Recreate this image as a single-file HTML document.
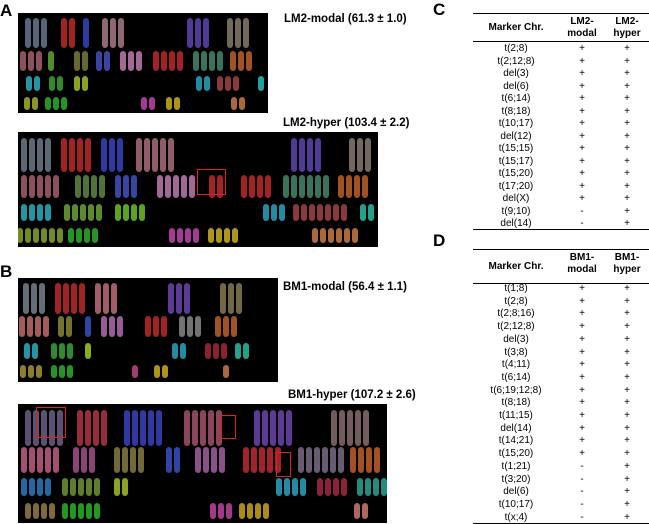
<!DOCTYPE html>
<html><head><meta charset="utf-8">
<style>
body{margin:0;background:#fff;width:649px;height:524px;position:relative;overflow:hidden;font-family:"Liberation Sans",Arial,sans-serif;}
.abs{position:absolute}
.letter{font-weight:bold;font-size:17px;color:#000}
.title{font-weight:bold;font-size:11.5px;color:#000;white-space:nowrap}
.panel{position:absolute;background:#000;overflow:hidden}
.chr{position:absolute;border-radius:3.5px}
.rbox{position:absolute;border:1.5px solid #e02020}
.tbl{position:absolute;font-size:10px;color:#000}
.cell{position:absolute;transform:translateX(-50%);white-space:nowrap;line-height:11px}
.hline{position:absolute;height:1.3px;background:#000}
</style></head><body>
<div class="abs letter" style="left:0;top:1px">A</div>
<div class="abs letter" style="left:0;top:262px">B</div>
<div class="abs letter" style="left:433px;top:0px">C</div>
<div class="abs letter" style="left:433px;top:231px">D</div>

<div class="abs title" style="left:284px;top:13px">LM2-modal (61.3 ± 1.0)</div>
<div class="abs title" style="left:283px;top:117px">LM2-hyper (103.4 ± 2.2)</div>
<div class="abs title" style="left:283px;top:281px">BM1-modal (56.4 ± 1.1)</div>
<div class="abs title" style="left:288px;top:389px">BM1-hyper (107.2 ± 2.6)</div>

<div class="panel" id="p1" style="left:18px;top:13px;width:250px;height:100px"></div>
<div class="panel" id="p2" style="left:18px;top:132px;width:360px;height:115px"></div>
<div class="panel" id="p3" style="left:18px;top:278px;width:260px;height:104px"></div>
<div class="panel" id="p4" style="left:18px;top:404px;width:369px;height:119px"></div>

<div id="tc" class="tbl" style="left:0;top:0;width:649px;height:524px"></div>

<script>
const rowsA1=[
 [0.2,0.3,[[0.07,3,'#7a8aa8'],[0.2,2,'#e03030'],[0.27,1,'#4050e0'],[0.38,3,'#c890a0'],[0.72,3,'#7050d0'],[0.88,3,'#a09080']]],
 [0.48,0.2,[[0.05,3,'#c07080'],[0.13,1,'#70c040'],[0.25,2,'#909040'],[0.34,2,'#5060e0'],[0.45,3,'#e090d0'],[0.6,4,'#e03030'],[0.76,4,'#50a080'],[0.89,3,'#e07030']]],
 [0.7,0.15,[[0.06,2,'#30d0e0'],[0.15,2,'#40c040'],[0.25,2,'#c0e030'],[0.74,2,'#30c0e0'],[0.84,3,'#c05050'],[0.97,1,'#30e0e0']]],
 [0.9,0.13,[[0.05,2,'#c0d030'],[0.15,3,'#30d030'],[0.52,2,'#e050d0'],[0.62,2,'#f0d020'],[0.88,2,'#f09050']]]
];
const rowsA2=[
 [0.2,0.3,[[0.05,4,'#8090a0'],[0.16,4,'#e03030'],[0.26,3,'#4050e0'],[0.38,5,'#c88090'],[0.8,4,'#7050d0'],[0.95,3,'#a09080']]],
 [0.47,0.2,[[0.06,5,'#c07080'],[0.2,4,'#70a050'],[0.3,3,'#5060e0'],[0.44,5,'#e090d0'],[0.55,2,'#e03040'],[0.66,4,'#e03030'],[0.8,6,'#50a080'],[0.93,4,'#e07030']]],
 [0.7,0.15,[[0.05,4,'#30d0e0'],[0.18,5,'#80c040'],[0.31,4,'#80e030'],[0.71,3,'#30c0e0'],[0.84,7,'#c05050'],[0.97,2,'#30e0c0']]],
 [0.9,0.13,[[0.06,6,'#a0c030'],[0.18,4,'#30d030'],[0.46,4,'#e050d0'],[0.57,4,'#f0d020'],[0.88,6,'#f09050']]]
];
const rowsB1=[
 [0.2,0.3,[[0.06,3,'#8a98a8'],[0.2,4,'#e03030'],[0.34,3,'#e08090'],[0.62,3,'#8050d0'],[0.82,3,'#a09060']]],
 [0.47,0.2,[[0.06,4,'#e08080'],[0.18,2,'#a0a040'],[0.27,1,'#4060e0'],[0.36,3,'#d080d0'],[0.53,3,'#e03030'],[0.66,3,'#a0a0a0'],[0.8,3,'#e07030']]],
 [0.7,0.15,[[0.05,2,'#30d0e0'],[0.17,3,'#40c040'],[0.27,1,'#c0f030'],[0.62,2,'#30c0e0'],[0.76,3,'#c03040'],[0.86,2,'#30e0c0']]],
 [0.9,0.13,[[0.05,3,'#c0b040'],[0.17,3,'#30d030'],[0.45,1,'#e050a0'],[0.55,2,'#f0d020'],[0.8,1,'#f09050']]]
];
const rowsB2=[
 [0.2,0.3,[[0.07,5,'#8070a0'],[0.2,4,'#d04050'],[0.34,5,'#4050e0'],[0.5,5,'#c06080'],[0.69,5,'#8050d0'],[0.9,5,'#a08080']]],
 [0.47,0.22,[[0.06,5,'#e070a0'],[0.18,3,'#c060a0'],[0.3,4,'#a09050'],[0.42,2,'#4060e0'],[0.52,4,'#c070c0'],[0.66,5,'#e03040'],[0.82,6,'#9080a0'],[0.94,4,'#e07030']]],
 [0.7,0.15,[[0.05,4,'#3090e0'],[0.17,5,'#80b040'],[0.28,2,'#c0e030'],[0.74,4,'#30c0e0'],[0.85,4,'#c03050'],[0.96,4,'#30c0b0']]],
 [0.9,0.13,[[0.06,4,'#b09050'],[0.17,5,'#30d030'],[0.55,3,'#e050c0'],[0.64,4,'#f0c020'],[0.93,2,'#f09080']]]
];
function drawPanel(id,rows,boxes){
  const p=document.getElementById(id);const W=p.clientWidth,H=p.clientHeight;
  rows.forEach(r=>{const cy=r[0]*H,h=r[1]*H;
    r[2].forEach(g=>{const n=g[1],w=6,gap=2,tot=n*w+(n-1)*gap;let x0=g[0]*W-tot/2;
      for(let i=0;i<n;i++){const c=document.createElement('div');c.className='chr';
        
        
        c.style.left=(x0+i*(w+gap))+'px';c.style.top=(cy-h/2)+'px';c.style.width=w+'px';c.style.height=h+'px';
        c.style.background=g[2];c.style.opacity=0.72;p.appendChild(c);}
    });});
  (boxes||[]).forEach(b=>{const d=document.createElement('div');d.className='rbox';
    
    
    d.style.left=b[0]+'px';d.style.top=b[1]+'px';d.style.width=b[2]+'px';d.style.height=b[3]+'px';p.appendChild(d);});
}
drawPanel('p1',rowsA1);
drawPanel('p2',rowsA2,[[179,37,27,24]]);
drawPanel('p3',rowsB1);
drawPanel('p4',rowsB2,[[18,3,28,29],[203,11,13,22],[258,48,13,23]]);

const markersC=['t(2;8)','t(2;12;8)','del(3)','del(6)','t(6;14)','t(8;18)','t(10;17)','del(12)','t(15;15)','t(15;17)','t(15;20)','t(17;20)','del(X)','t(9;10)','del(14)'];
const modalC=['+','+','+','+','+','+','+','+','+','+','+','+','+','-','-'];
const hyperC=['+','+','+','+','+','+','+','+','+','+','+','+','+','+','+'];
const markersD=['t(1;8)','t(2;8)','t(2;8;16)','t(2;12;8)','del(3)','t(3;8)','t(4;11)','t(6;14)','t(6;19;12;8)','t(8;18)','t(11;15)','del(14)','t(14;21)','t(15;20)','t(1;21)','t(3;20)','del(6)','t(10;17)','t(x;4)'];
const modalD=['+','+','+','+','+','+','+','+','+','+','+','+','+','+','-','-','-','-','-'];
const hyperD=['+','+','+','+','+','+','+','+','+','+','+','+','+','+','+','+','+','+','+'];
const T=document.getElementById('tc');
function cell(txt,x,y,bold,name){const d=document.createElement('div');d.className='cell';
  
  
  d.textContent=txt;d.style.left=x+'px';d.style.top=y+'px';if(bold)d.style.fontWeight='bold';T.appendChild(d);}
function line(y,name){const d=document.createElement('div');d.className='hline';
  
  
  d.style.left='473px';d.style.width='176px';d.style.top=y+'px';T.appendChild(d);}
function table(top,line2,start,step,bottom,lab,mk,mo,hy){
  line(top,'table-top-rule');
  cell('Marker Chr.',516,(top+line2)/2-5,true,'header-marker');
  cell(lab+'-',582,top+3,true,'header-modal');cell('modal',582,top+15,true,'header-modal');
  cell(lab+'-',627,top+3,true,'header-hyper');cell('hyper',627,top+15,true,'header-hyper');
  line(line2,'table-header-rule');
  mk.forEach((t,i)=>{const y=start+i*step-5;cell(t,516,y,false,'marker-name');cell(mo[i],582,y,false,'modal-value');cell(hy[i],627,y,false,'hyper-value');});
  line(bottom,'table-bottom-rule');
}
table(13,41,48,12.5,229,'LM2',markersC,modalC,hyperC);
table(249,283,288,12.7,523,'BM1',markersD,modalD,hyperD);
</script>
</body></html>
